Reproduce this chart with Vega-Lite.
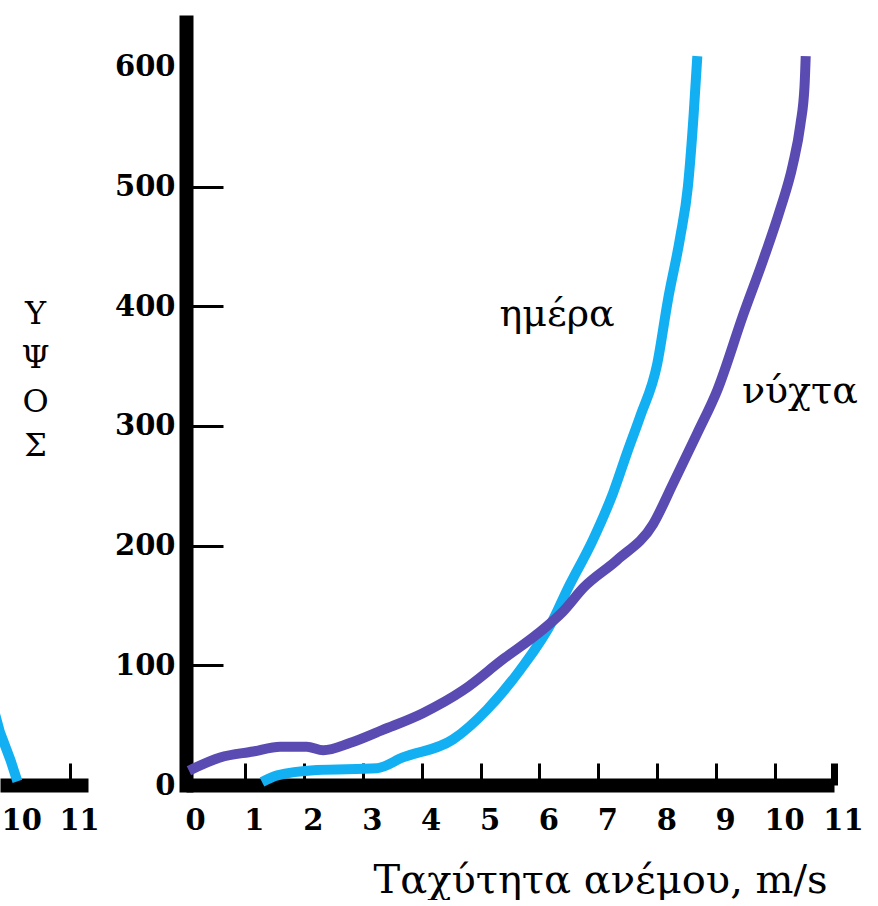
{
  "$schema": "https://vega.github.io/schema/vega-lite/v6.json",
  "background": "white",
  "padding": {"left": 0, "top": 22, "right": 0, "bottom": 0},
  "bounds": "flush",
  "spacing": 98,
  "config": {
    "view": {"stroke": null},
    "font": "DejaVu Serif",
    "axis": {
      "grid": false,
      "domainColor": "black",
      "tickColor": "black",
      "labelColor": "black",
      "titleColor": "black",
      "labelFont": "DejaVu Serif",
      "titleFont": "DejaVu Serif",
      "labelFontWeight": "bold",
      "titleFontWeight": "normal",
      "labelFlush": false,
      "labelOverlap": false,
      "labelBound": false
    }
  },
  "hconcat": [
    {
      "width": 88,
      "height": 763,
      "data": {
        "values": [
          {"speed": 9.6, "height": 78},
          {"speed": 9.7, "height": 60},
          {"speed": 9.79, "height": 44},
          {"speed": 9.97, "height": 21},
          {"speed": 10.09, "height": 3}
        ]
      },
      "mark": {"type": "line", "color": "#12b0f3", "strokeWidth": 10, "clip": true},
      "encoding": {
        "x": {
          "field": "speed",
          "type": "quantitative",
          "scale": {"domain": [9.79, 11.31], "nice": false, "zero": false},
          "axis": {
            "values": [10, 11],
            "format": "d",
            "title": null,
            "domainWidth": 14,
            "domainCap": "butt",
            "tickSize": -22,
            "tickWidth": 3,
            "labelPadding": 43,
            "labelFontSize": 29,
            "labelOffset": 9
          }
        },
        "y": {
          "field": "height",
          "type": "quantitative",
          "scale": {"domain": [0, 637.5], "nice": false},
          "axis": null
        }
      }
    },
    {
      "width": 648,
      "height": 763,
      "layer": [
        {
          "data": {
            "values": [
              {"series": "ημέρα", "speed": 1.29, "height": 2.5},
              {"series": "ημέρα", "speed": 1.55, "height": 8},
              {"series": "ημέρα", "speed": 2.22, "height": 12.5},
              {"series": "ημέρα", "speed": 3.24, "height": 14},
              {"series": "ημέρα", "speed": 3.68, "height": 23},
              {"series": "ημέρα", "speed": 4.53, "height": 38},
              {"series": "ημέρα", "speed": 5.11, "height": 63},
              {"series": "ημέρα", "speed": 5.67, "height": 96},
              {"series": "ημέρα", "speed": 6.23, "height": 138},
              {"series": "ημέρα", "speed": 6.47, "height": 163},
              {"series": "ημέρα", "speed": 6.91, "height": 205},
              {"series": "ημέρα", "speed": 7.25, "height": 244},
              {"series": "ημέρα", "speed": 7.49, "height": 278},
              {"series": "ημέρα", "speed": 7.71, "height": 308},
              {"series": "ημέρα", "speed": 8.0, "height": 352},
              {"series": "ημέρα", "speed": 8.18, "height": 405},
              {"series": "ημέρα", "speed": 8.39, "height": 458},
              {"series": "ημέρα", "speed": 8.52, "height": 500},
              {"series": "ημέρα", "speed": 8.62, "height": 562},
              {"series": "ημέρα", "speed": 8.68, "height": 609},
              {"series": "νύχτα", "speed": 0.05, "height": 12},
              {"series": "νύχτα", "speed": 0.58, "height": 23},
              {"series": "νύχτα", "speed": 1.14, "height": 28},
              {"series": "νύχτα", "speed": 1.6, "height": 32},
              {"series": "νύχτα", "speed": 2.05, "height": 32},
              {"series": "νύχτα", "speed": 2.33, "height": 29},
              {"series": "νύχτα", "speed": 2.78, "height": 35},
              {"series": "νύχτα", "speed": 3.34, "height": 46},
              {"series": "νύχτα", "speed": 4.02, "height": 60},
              {"series": "νύχτα", "speed": 4.7, "height": 79},
              {"series": "νύχτα", "speed": 5.38, "height": 105},
              {"series": "νύχτα", "speed": 5.96, "height": 126},
              {"series": "νύχτα", "speed": 6.4, "height": 145},
              {"series": "νύχτα", "speed": 6.75, "height": 165},
              {"series": "νύχτα", "speed": 7.32, "height": 188},
              {"series": "νύχτα", "speed": 7.93, "height": 218},
              {"series": "νύχτα", "speed": 8.27, "height": 252},
              {"series": "νύχτα", "speed": 8.68, "height": 294},
              {"series": "νύχτα", "speed": 9.02, "height": 330},
              {"series": "νύχτα", "speed": 9.46, "height": 393},
              {"series": "νύχτα", "speed": 9.8, "height": 439},
              {"series": "νύχτα", "speed": 10.08, "height": 480},
              {"series": "νύχτα", "speed": 10.3, "height": 518},
              {"series": "νύχτα", "speed": 10.43, "height": 552},
              {"series": "νύχτα", "speed": 10.5, "height": 584},
              {"series": "νύχτα", "speed": 10.52, "height": 609}
            ]
          },
          "mark": {"type": "line", "strokeWidth": 10, "interpolate": "monotone"},
          "encoding": {
            "x": {
              "field": "speed",
              "type": "quantitative",
              "scale": {"domain": [0, 11], "nice": false},
              "axis": {
                "values": [0, 1, 2, 3, 4, 5, 6, 7, 8, 9, 10, 11],
                "format": "d",
                "title": "Ταχύτητα ανέμου,  m/s",
                "titleFontSize": 40,
                "titleX": 414,
                "titleY": 107,
                "titleAlign": "center",
                "titleBaseline": "alphabetic",
                "domainWidth": 14,
                "domainCap": "butt",
                "tickSize": -22,
                "tickWidth": {"condition": {"test": "datum.value === 11", "value": 7}, "value": 3},
                "labelPadding": 43,
                "labelFontSize": 29,
                "labelOffset": 9
              }
            },
            "y": {
              "field": "height",
              "type": "quantitative",
              "scale": {"domain": [0, 637.5], "nice": false},
              "axis": {
                "values": [0, 100, 200, 300, 400, 500, 600],
                "title": ["Υ", "Ψ", "Ο", "Σ"],
                "titleAngle": 0,
                "titleX": -151,
                "titleY": 276,
                "titleAlign": "center",
                "titleBaseline": "top",
                "titleLineHeight": 44,
                "titleFontSize": 32,
                "domainWidth": 14,
                "domainCap": "square",
                "tickSize": -37,
                "tickWidth": 3,
                "tickOpacity": {"condition": {"test": "datum.value === 600", "value": 0}, "value": 1},
                "labelPadding": 48,
                "labelFontSize": 29
              }
            },
            "color": {
              "field": "series",
              "type": "nominal",
              "scale": {"domain": ["ημέρα", "νύχτα"], "range": ["#12b0f3", "#5a4bb3"]},
              "legend": null
            }
          }
        },
        {
          "data": {
            "values": [
              {"label": "ημέρα", "speed": 6.3, "height": 393},
              {"label": "νύχτα", "speed": 10.42, "height": 328}
            ]
          },
          "mark": {"type": "text", "fontSize": 38, "color": "black", "align": "center", "baseline": "middle"},
          "encoding": {
            "x": {"field": "speed", "type": "quantitative"},
            "y": {"field": "height", "type": "quantitative"},
            "text": {"field": "label"}
          }
        }
      ]
    }
  ]
}
